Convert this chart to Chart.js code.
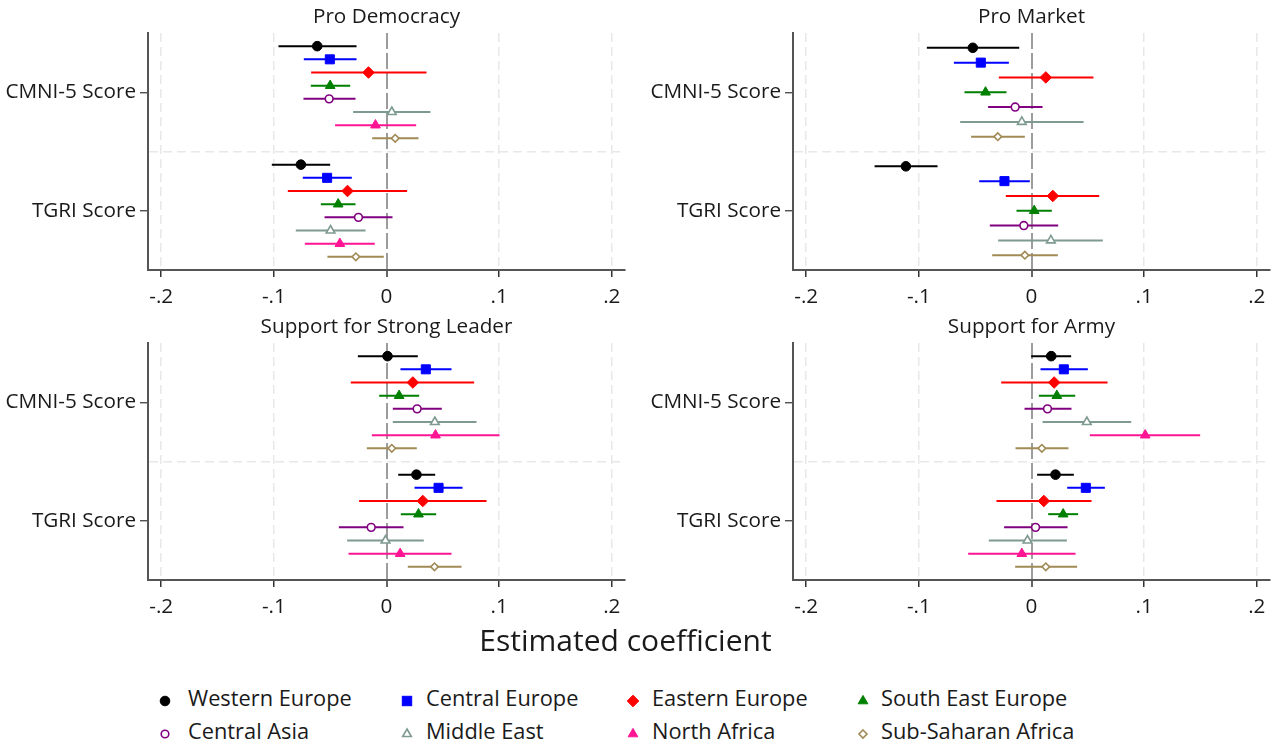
<!DOCTYPE html>
<html><head><meta charset="utf-8">
<script src="https://cdn.jsdelivr.net/npm/chart.js@4.4.1/dist/chart.umd.min.js"></script>
<style>
html,body{margin:0;padding:0;background:#fff;width:1272px;height:744px;overflow:hidden;font-family:"Open Sans",sans-serif;position:relative;}
canvas{position:absolute;}
#xtitle{position:absolute;left:0;width:1251px;top:620px;text-align:center;font-size:30px;color:#1a1a1a;line-height:40px;}
.leg{position:absolute;font-size:21.8px;color:#1a1a1a;line-height:26px;white-space:nowrap;}
.mk{position:absolute;}
</style></head><body>
<canvas id="c0" width="640" height="320" style="left:0;top:0"></canvas>
<canvas id="c1" width="640" height="320" style="left:645px;top:0"></canvas>
<canvas id="c2" width="640" height="320" style="left:0;top:310px"></canvas>
<canvas id="c3" width="640" height="320" style="left:645px;top:310px"></canvas>
<div id="xtitle">Estimated coefficient</div>
<div id="legend"></div>
<script>
const regions = ['Western Europe','Central Europe','Eastern Europe','South East Europe','Central Asia','Middle East','North Africa','Sub-Saharan Africa'];
const scoreLabels = ['CMNI-5 Score','TGRI Score'];
const panelTitles = ['Pro Democracy','Pro Market','Support for Strong Leader','Support for Army'];
const xTicks = [-0.2,-0.1,0,0.1,0.2];
const xTickLabels = ['-.2','-.1','0','.1','.2'];

// [estimate, lower, upper] for each region (null = not estimated)
const proDemocracyCMNI = [
 [-0.0615,-0.0959,-0.0266],[-0.0503,-0.0734,-0.0266],[-0.0160,-0.0669,0.0355],[-0.0500,-0.0672,-0.0322],
 [-0.0509,-0.0737,-0.0275],[0.0047,-0.0296,0.0390],[-0.0098,-0.0456,0.0263],[0.0077,-0.0127,0.0284]];
const proDemocracyTGRI = [
 [-0.0760,-0.1018,-0.0500],[-0.0527,-0.0743,-0.0308],[-0.0346,-0.0876,0.0183],[-0.0429,-0.0583,-0.0275],
 [-0.0249,-0.0550,0.0053],[-0.0497,-0.0805,-0.0186],[-0.0414,-0.0725,-0.0104],[-0.0272,-0.0524,-0.0024]];
const proMarketCMNI = [
 [-0.0521,-0.0929,-0.0109],[-0.0450,-0.0689,-0.0201],[0.0127,-0.0290,0.0550],[-0.0408,-0.0595,-0.0222],
 [-0.0145,-0.0385,0.0098],[-0.0086,-0.0633,0.0462],null,[-0.0299,-0.0536,-0.0059]];
const proMarketTGRI = [
 [-0.1115,-0.1393,-0.0834],[-0.0240,-0.0464,-0.0015],[0.0189,-0.0228,0.0601],[0.0024,-0.0133,0.0180],
 [-0.0068,-0.0370,0.0237],[0.0172,-0.0296,0.0633],null,[-0.0059,-0.0349,0.0234]];
const strongLeaderCMNI = [
 [0.0009,-0.0254,0.0278],[0.0349,0.0124,0.0577],[0.0234,-0.0317,0.0778],[0.0112,-0.0065,0.0290],
 [0.0272,0.0056,0.0491],[0.0429,0.0056,0.0799],[0.0435,-0.0130,0.1003],[0.0047,-0.0175,0.0269]];
const strongLeaderTGRI = [
 [0.0266,0.0104,0.0432],[0.0462,0.0249,0.0675],[0.0322,-0.0243,0.0888],[0.0284,0.0127,0.0441],
 [-0.0136,-0.0423,0.0151],[-0.0009,-0.0349,0.0331],[0.0121,-0.0337,0.0577],[0.0426,0.0189,0.0666]];
const armyCMNI = [
 [0.0175,-0.0003,0.0352],[0.0287,0.0080,0.0500],[0.0201,-0.0269,0.0675],[0.0225,0.0065,0.0388],
 [0.0142,-0.0062,0.0355],[0.0491,0.0098,0.0885],[0.1009,0.0518,0.1497],[0.0092,-0.0142,0.0328]];
const armyTGRI = [
 [0.0213,0.0050,0.0376],[0.0482,0.0317,0.0651],[0.0109,-0.0311,0.0533],[0.0281,0.0148,0.0414],
 [0.0036,-0.0243,0.0320],[-0.0036,-0.0379,0.0314],[-0.0086,-0.0562,0.0391],[0.0127,-0.0145,0.0405]];

// styling
const regionColors = ['#000000','#0000ff','#ff0000','#008000','#800080','#7f9a90','#ff1493','#a08a55'];
const regionMarkers = [
 {style:'circle', r:4.8, fill:true},
 {style:'rect', r:6.4, fill:true},
 {style:'rectRot', r:5.8, fill:true},
 {style:'triangle', r:5.6, fill:true},
 {style:'circle', r:3.9, fill:false},
 {style:'triangle', r:5.0, fill:false},
 {style:'triangle', r:5.6, fill:true},
 {style:'rectRot', r:3.8, fill:false}
];
const FONT = 'Open Sans';
const FS = 20.7;
const TXT = '#1a1a1a';

function buildPanel(canvasId, title, cmni, tgri, padRight) {
  const rows = [cmni, tgri];
  const datasets = [];
  rows.forEach((rowData, s) => {
    const present = rowData.map((v,i) => v ? i : -1).filter(i => i >= 0);
    const P = present.length;
    present.forEach((ri, k) => {
      const y = (s + 1) + ((k + 1) - (P + 1) / 2) / (P + 1);
      const [est, lo, hi] = rowData[ri];
      const m = regionMarkers[ri], col = regionColors[ri];
      datasets.push({label: regions[ri] + ' CI', data: [{x: lo, y}, {x: hi, y}], showLine: true,
        borderColor: col, borderWidth: 2, pointRadius: 0, pointHoverRadius: 0, order: 2});
      datasets.push({label: regions[ri], data: [{x: est, y}], pointStyle: m.style, pointRadius: m.r,
        pointHoverRadius: m.r, pointBorderWidth: m.fill ? 1 : 1.6,
        pointBackgroundColor: m.fill ? col : '#ffffff', pointBorderColor: col, order: 1});
    });
  });
  new Chart(document.getElementById(canvasId), {
    type: 'scatter',
    data: {datasets},
    options: {
      responsive: false, animation: false, events: [],
      layout: {padding: {left: 0, right: padRight, top: 0, bottom: 0}},
      plugins: {legend: {display: false}, tooltip: {enabled: false}},
      scales: {
        x: {
          type: 'linear', position: 'bottom', min: -0.2117, max: 0.2117,
          afterBuildTicks: sc => { sc.ticks = xTicks.map(v => ({value: v})); },
          afterFit: sc => { sc.height = 50; },
          ticks: {callback: (v, i) => xTickLabels[i], font: {family: FONT, size: FS}, color: TXT,
                  padding: 8, maxRotation: 0, autoSkip: false},
          grid: {
            color: c => (c.tick && c.tick.value === 0) ? '#9c9c9c' : '#e8e8e8',
            lineWidth: c => (c.tick && c.tick.value === 0) ? 2 : 1.5,
            tickColor: '#333', tickLength: 7, tickWidth: 1.5, tickBorderDash: []
          },
          border: {display: true, color: '#555', width: 2,
                   dash: c => (c.tick && c.tick.value === 0) ? [16, 4] : [9, 5]}
        },
        xt: {
          type: 'linear', position: 'top', display: true,
          afterFit: sc => { sc.height = 33; },
          ticks: {display: false}, grid: {display: false, drawTicks: false}, border: {display: false},
          title: {display: true, text: title, font: {family: FONT, size: FS}, color: TXT, padding: {top: 5, bottom: 0}}
        },
        y: {
          type: 'linear', reverse: true, min: 0.5, max: 2.5,
          afterBuildTicks: sc => { sc.ticks = [{value: 1}, {value: 1.5}, {value: 2}]; },
          afterFit: sc => { sc.width = 148; },
          ticks: {callback: v => v === 1 ? scoreLabels[0] : (v === 2 ? scoreLabels[1] : ''),
                  font: {family: FONT, size: FS}, color: TXT, padding: 4, autoSkip: false},
          grid: {
            color: c => (c.tick && c.tick.value === 1.5) ? '#e8e8e8' : 'rgba(0,0,0,0)',
            lineWidth: 1.5,
            tickColor: c => (c.tick && c.tick.value === 1.5) ? 'rgba(0,0,0,0)' : '#333',
            tickLength: 8, tickWidth: 1.2, tickBorderDash: []
          },
          border: {display: true, color: '#555', width: 2, dash: [9, 5]}
        }
      }
    }
  });
}

buildPanel('c0', panelTitles[0], proDemocracyCMNI, proDemocracyTGRI, 15);
buildPanel('c1', panelTitles[1], proMarketCMNI, proMarketTGRI, 15);
buildPanel('c2', panelTitles[2], strongLeaderCMNI, strongLeaderTGRI, 15);
buildPanel('c3', panelTitles[3], armyCMNI, armyTGRI, 15);

// shared legend
const legCols = [{mx: 165, tx: 188}, {mx: 407, tx: 426}, {mx: 633, tx: 652}, {mx: 863, tx: 881}];
const legRows = [698, 731];
function markerSvg(i) {
  const c = regionColors[i], m = regionMarkers[i];
  const fill = m.fill ? c : '#fff';
  const sw = m.fill ? 1 : 1.6;
  let shape = '';
  if (m.style === 'circle') shape = `<circle cx="7" cy="7" r="${m.fill ? 4.8 : 3.8}" fill="${fill}" stroke="${c}" stroke-width="${sw}"/>`;
  else if (m.style === 'rect') shape = `<rect x="2.3" y="2.3" width="9.4" height="9.4" fill="${fill}" stroke="${c}" stroke-width="${sw}"/>`;
  else if (m.style === 'rectRot') { const r = m.fill ? 5.8 : 4; shape = `<polygon points="7,${7-r} ${7+r},7 7,${7+r} ${7-r},7" fill="${fill}" stroke="${c}" stroke-width="${sw}"/>`; }
  else { const r = m.fill ? 5.6 : 5; const h = r * 0.866; shape = `<polygon points="7,${7-r} ${7+h},${7+r/2} ${7-h},${7+r/2}" fill="${fill}" stroke="${c}" stroke-width="${sw}"/>`; }
  return `<svg width="14" height="14" viewBox="0 0 14 14">${shape}</svg>`;
}
const legend = document.getElementById('legend');
regions.forEach((name, i) => {
  const col = legCols[i % 4], y = legRows[Math.floor(i / 4)];
  const mk = document.createElement('div');
  mk.className = 'mk'; mk.style.left = (col.mx - 7) + 'px'; mk.style.top = (y - 7) + 'px';
  mk.innerHTML = markerSvg(i);
  legend.appendChild(mk);
  const t = document.createElement('div');
  t.className = 'leg'; t.style.left = col.tx + 'px'; t.style.top = (y - 13) + 'px';
  t.textContent = name;
  legend.appendChild(t);
});
</script>
</body></html>
